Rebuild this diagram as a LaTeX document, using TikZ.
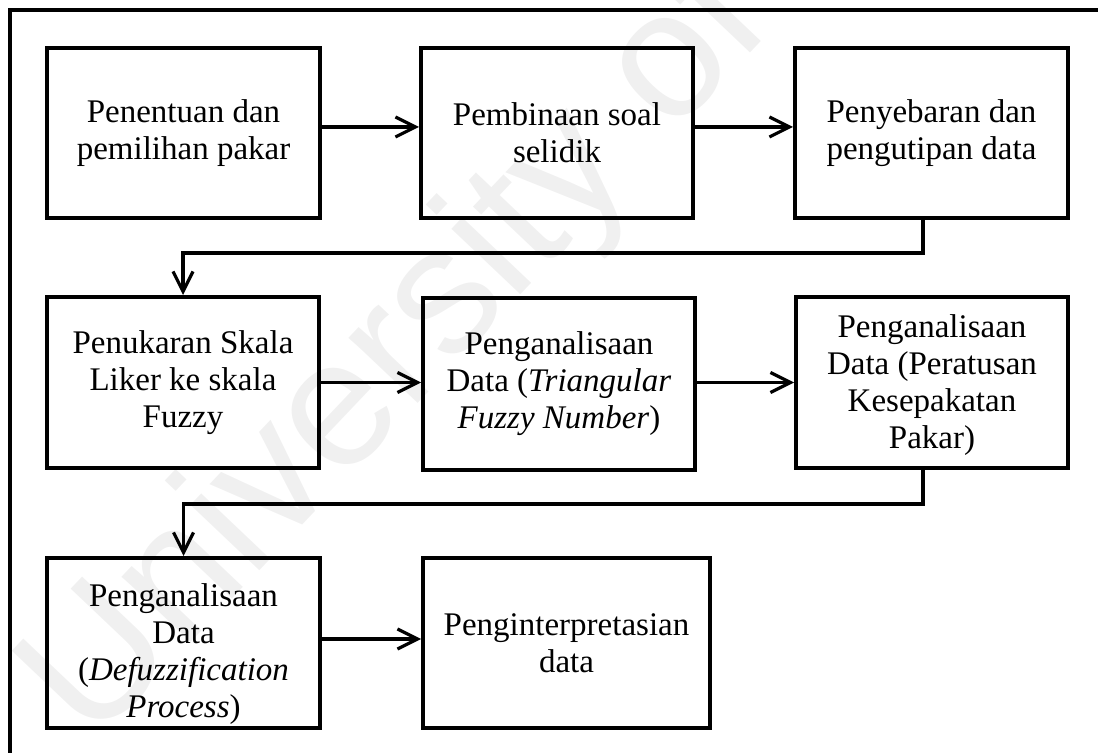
\documentclass[tikz,border=0pt]{standalone}
\usepackage{fontspec}
\setmainfont{Liberation Serif}
\newfontfamily\marksans{Liberation Sans}
\usetikzlibrary{arrows.meta}
\tikzset{
  stepbox/.style={draw=black, line width=2pt, rectangle, align=center,
    inner sep=0pt, font=\fontsize{16.5}{18.5}\selectfont},
  boxtext/.style={align=center, inner sep=0pt,
    font=\fontsize{16.5}{18.5}\selectfont},
  conn/.style={draw=black, line width=1.6pt,
    -{Straight Barb[length=10pt,width=10pt,line width=1.6pt]}},
  frame/.style={draw=black, line width=2.4pt, line cap=butt}
}
\begin{document}
\begin{tikzpicture}[x=0.5pt,y=-0.5pt]
\useasboundingbox (0,0) rectangle (1098,753);
% faint background lettering
\node[text=black!6, rotate=46.5, font=\marksans\fontsize{90}{90}\selectfont]
  (mark) at (400,355) {University of};
% open outer frame: left and top sides
\draw[frame] (10,753) -- (10,10) -- (1098,10);

% first row
\node[stepbox, minimum width=136.5pt, minimum height=85pt] (b1) at (183.5,133)
  {Penentuan dan\\pemilihan pakar};
\node[stepbox, minimum width=136pt, minimum height=85pt] (b2) at (557,133)
  {Pembinaan soal\\selidik};
\node[stepbox, minimum width=136.5pt, minimum height=85pt] (b3) at (931.5,133)
  {Penyebaran dan\\pengutipan data};

% second row
\node[stepbox, minimum width=136pt, minimum height=85.5pt] (b4) at (183,382.5)
  {Penukaran Skala\\Liker ke skala\\Fuzzy};
\node[stepbox, minimum width=136pt, minimum height=86pt] (b5) at (559,384)
  {Penganalisaan\\Data (\textit{Triangular}\\\textit{Fuzzy Number})};
\node[stepbox, minimum width=136pt, minimum height=85.5pt] (b6) at (932,382.5) {};
\node[boxtext] (t6) at ([yshift=-1.5pt]b6.center)
  {Penganalisaan\\Data (Peratusan\\Kesepakatan\\Pakar)};

% third row
\node[stepbox, minimum width=136.5pt, minimum height=85pt] (b7) at (183.5,643) {};
\node[boxtext] (t7) at ([yshift=-5.5pt]b7.center)
  {Penganalisaan\\Data\\(\textit{Defuzzification}\\\textit{Process})};
\node[stepbox, minimum width=143.5pt, minimum height=85pt] (b8) at (566.5,643)
  {Penginterpretasian\\data};

% connectors
\draw[conn] ([yshift=3pt]b1.east) -- ([yshift=3pt]b2.west);
\draw[conn] ([yshift=3pt]b2.east) -- ([yshift=3pt]b3.west);
\coordinate (d1) at ([xshift=-4.25pt]b3.south);
\draw[conn] (d1) -- ++(0,33) -| (b4.north);
\draw[conn] (b4.east) -- (b5.west |- b4.east);
\draw[conn] (b5.east |- b4.east) -- (b6.west);
\coordinate (d2) at ([xshift=-4.5pt]b6.south);
\draw[conn] (d2) -- ++(0,34) -| (b7.north);
\draw[conn] ([yshift=2pt]b7.east) -- ([yshift=2pt]b8.west);
\end{tikzpicture}
\end{document}
